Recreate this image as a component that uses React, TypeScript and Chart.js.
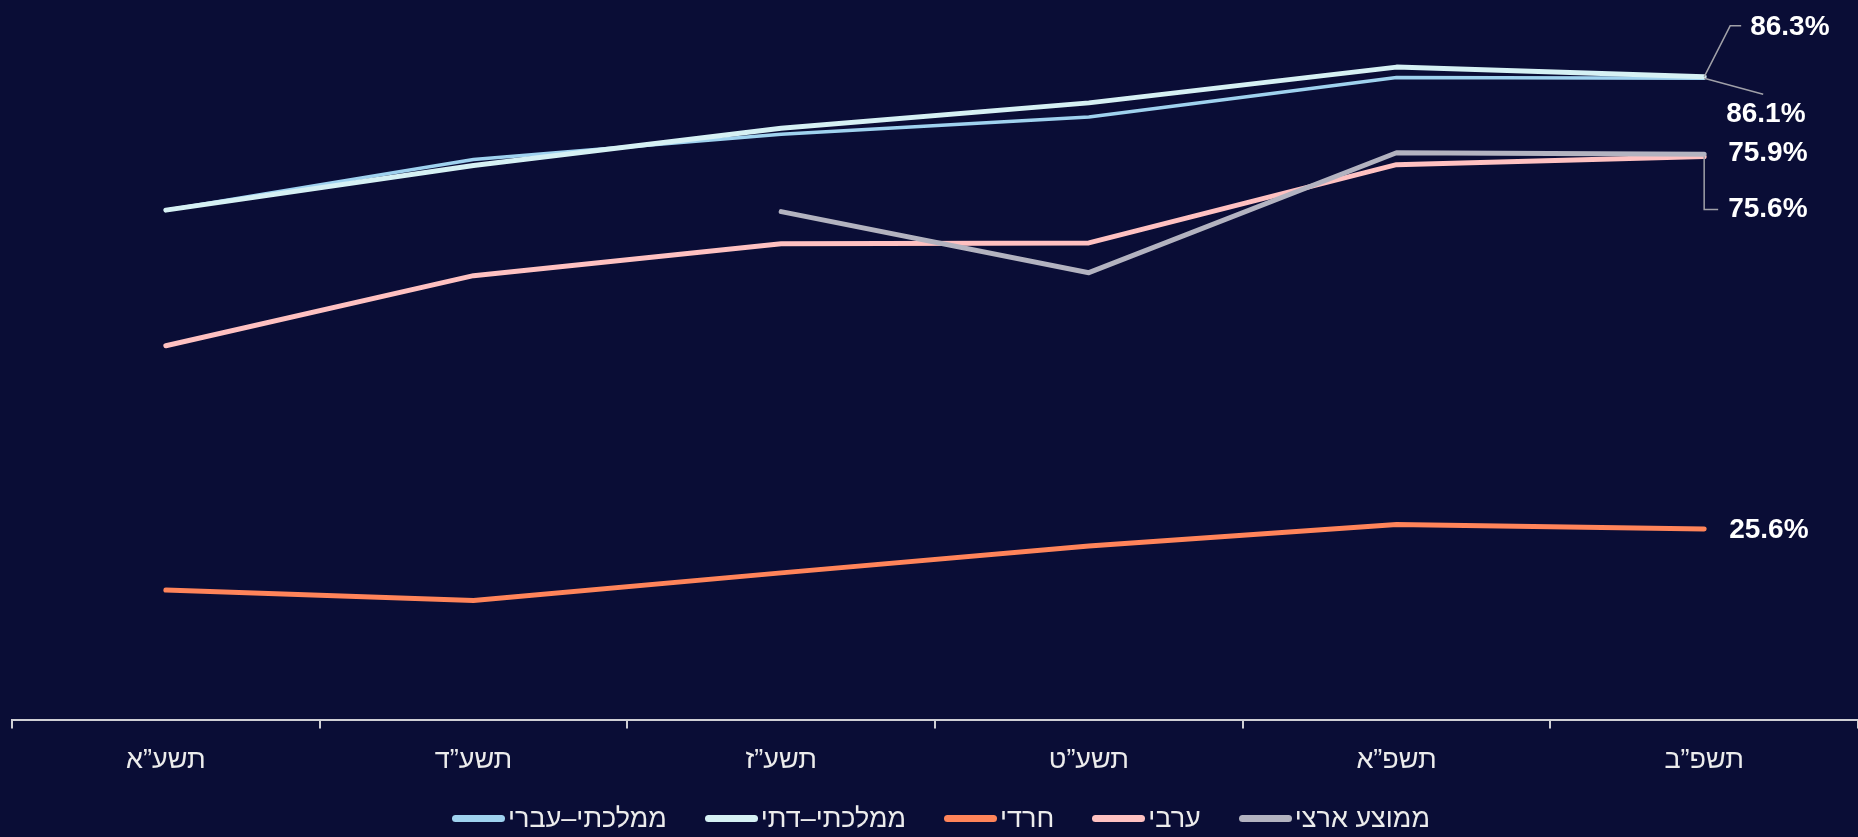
import React, { useEffect, useRef } from "react";
import { Chart, registerables } from "chart.js";

Chart.register(...registerables);

const categories = ["תשע”א", "תשע”ד", "תשע”ז", "תשע”ט", "תשפ”א", "תשפ”ב"];
const seriesNames = ["ממלכתי–עברי", "ממלכתי–דתי", "חרדי", "ערבי", "ממוצע ארצי"];

const mamlachtiIvri = [68.4, 75.2, 78.6, 80.9, 86.2, 86.1];
const mamlachtiDati = [68.4, 74.4, 79.4, 82.8, 87.6, 86.3];
const haredi = [17.4, 16.0, 19.7, 23.3, 26.2, 25.6];
const aravi = [50.2, 59.6, 63.9, 64.0, 74.5, 75.6];
const memutsaArtsi = [null, null, 68.2, 60.0, 76.1, 75.9];

const seriesValues = [mamlachtiIvri, mamlachtiDati, haredi, aravi, memutsaArtsi];
const seriesColors = ["#9fd2ef", "#d6f1f4", "#ff845a", "#ffc1c1", "#b3b3c0"];
const seriesWidths = [3.5, 5, 5, 5, 5];

// end label styling: offsets relative to last point (text left x, text center y) and leader path
const endLabelStyles = [
  { dx: 22, dy: 36, leader: [[0, 0], [59, 16]] },
  { dx: 46, dy: -50, leader: [[0, 0], [26, -51], [37, -51]] },
  { dx: 25, dy: 1, leader: null },
  { dx: 24, dy: 53, leader: [[0, 0], [0, 53], [14, 53]] },
  { dx: 24, dy: -1, leader: null },
];

const BG = "#0a0d36";
const FONT = "Arial, 'Liberation Sans', sans-serif";

const endLabelPlugin = {
  id: "endLabels",
  afterDatasetsDraw(chart: any) {
    const ctx = chart.ctx;
    ctx.save();
    chart.data.datasets.forEach((ds: any, i: number) => {
      const meta = chart.getDatasetMeta(i);
      const n = ds.data.length - 1;
      const pt = meta.data[n];
      const v = ds.data[n];
      if (!pt || v == null) return;
      const st = endLabelStyles[i];
      const px = pt.x;
      const py = pt.y;
      if (st.leader) {
        ctx.beginPath();
        ctx.strokeStyle = "#a0a0a8";
        ctx.lineWidth = 1.5;
        st.leader.forEach((p: number[], k: number) => {
          if (k === 0) ctx.moveTo(px + p[0], py + p[1]);
          else ctx.lineTo(px + p[0], py + p[1]);
        });
        ctx.stroke();
      }
      ctx.fillStyle = "#ffffff";
      ctx.font = `bold 28px ${FONT}`;
      ctx.textAlign = "left";
      ctx.textBaseline = "middle";
      ctx.fillText(`${v.toFixed(1)}%`, px + st.dx, py + st.dy);
    });
    ctx.restore();
  },
};

export default function App() {
  const ref = useRef<HTMLCanvasElement>(null);
  useEffect(() => {
    if (!ref.current) return;
    const chart = new Chart(ref.current, {
      type: "line",
      data: {
        labels: categories,
        datasets: seriesNames.map((name, i) => ({
          label: name,
          data: seriesValues[i],
          borderColor: seriesColors[i],
          backgroundColor: seriesColors[i],
          borderWidth: seriesWidths[i],
          borderCapStyle: "round",
          borderJoinStyle: "round",
          pointRadius: 0,
          tension: 0,
          spanGaps: false,
          order: seriesNames.length - i,
        })),
      },
      options: {
        animation: false,
        responsive: false,
        layout: { padding: { top: 12, left: 12, right: 0, bottom: 44 } },
        scales: {
          x: {
            offset: true,
            grid: {
              offset: true,
              drawOnChartArea: false,
              drawTicks: true,
              tickLength: 9,
              color: "#cfcfd4",
              lineWidth: 2,
            },
            border: { display: true, color: "#cfcfd4", width: 2 },
            ticks: {
              color: "#ececec",
              font: { family: FONT, size: 27 },
              padding: 16,
              maxRotation: 0,
            },
          },
          y: { display: false, min: 0, max: 95 },
        },
        plugins: {
          legend: { display: false },
          tooltip: { enabled: false },
        },
      },
      plugins: [endLabelPlugin],
    });
    return () => chart.destroy();
  }, []);
  return (
    <div
      style={{
        position: "fixed",
        left: 0,
        top: 0,
        width: 1858,
        height: 837,
        background: BG,
        overflow: "hidden",
      }}
    >
      <canvas ref={ref} width={1858} height={837} style={{ display: "block" }} />
      <div
        style={{
          position: "absolute",
          left: 24,
          top: 800,
          width: 1834,
          height: 36,
          display: "flex",
          alignItems: "center",
          justifyContent: "center",
          gap: 38,
          fontFamily: FONT,
          fontSize: 27,
          color: "#ececec",
          whiteSpace: "nowrap",
        }}
      >
        {seriesNames.map((name, i) => (
          <div key={name} style={{ display: "flex", alignItems: "center" }}>
            <span
              style={{
                display: "inline-block",
                width: 53,
                height: 7,
                borderRadius: 4,
                background: seriesColors[i],
                marginRight: 3,
              }}
            />
            <span>{name}</span>
          </div>
        ))}
      </div>
    </div>
  );
}
